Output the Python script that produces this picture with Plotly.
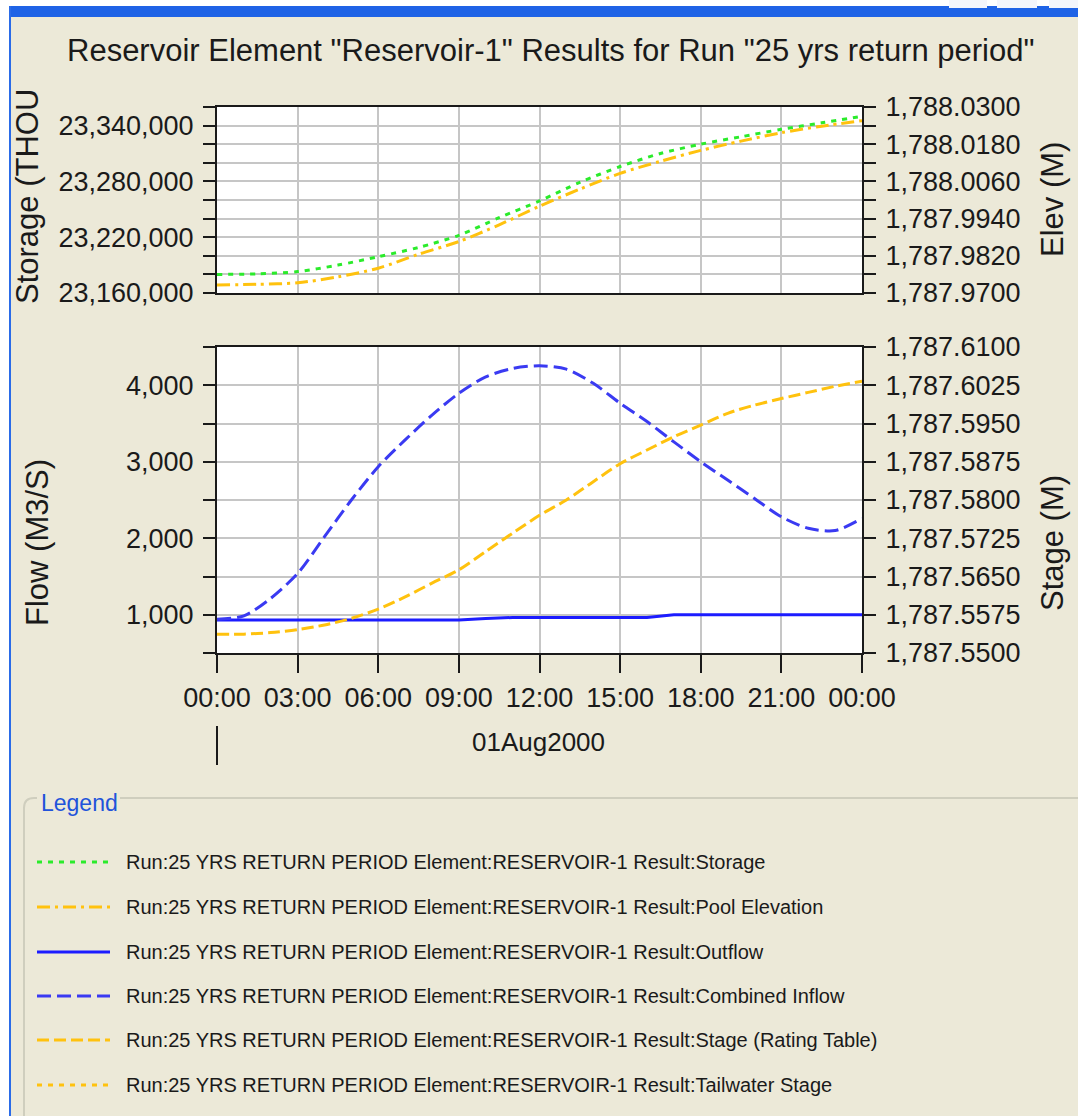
import plotly.graph_objects as go

W, H = 1078, 1116

# ---------------- data ----------------
DAY = "2000-08-01"
NEXT_DAY = "2000-08-02"

# reservoir pane (every 1.5 h)
TOP_HOURS = [0, 1.5, 3, 4.5, 6, 7.5, 9, 10.5, 12, 13.5, 15, 16.5, 18, 19.5, 21, 22.5, 24]
STORAGE = [23180000, 23180500, 23183000, 23190000, 23199000, 23209000, 23222000,
           23241000, 23259000, 23279000, 23296000, 23310000, 23320000, 23328000,
           23336000, 23343000, 23350000]
POOL_ELEV = [1787.9726, 1787.9728, 1787.9733, 1787.9752, 1787.9780, 1787.9825,
             1787.9866, 1787.9920, 1787.9980, 1788.0035, 1788.0086, 1788.0125,
             1788.0160, 1788.0190, 1788.0217, 1788.0238, 1788.0256]

# flow pane (hourly)
FLOW_HOURS = list(range(25))
OUTFLOW = [930, 930, 930, 930, 930, 930, 930, 930, 930, 930, 950, 965, 965,
           965, 965, 965, 965, 1000, 1000, 1000, 1000, 1000, 1000, 1000, 1000]
COMBINED_INFLOW = [940, 985, 1215, 1540, 2020, 2500, 2935, 3285, 3610, 3895, 4110,
                   4220, 4255, 4210, 4025, 3765, 3525, 3260, 3000, 2760, 2520,
                   2280, 2130, 2100, 2260]
STAGE_RATING = [1787.5537, 1787.5537, 1787.5540, 1787.5546, 1787.5555, 1787.5568,
                1787.5586, 1787.5610, 1787.5637, 1787.5663, 1787.5699, 1787.5735,
                1787.5770, 1787.5800, 1787.5836, 1787.5871, 1787.5898, 1787.5924,
                1787.5947, 1787.5970, 1787.5986, 1787.5999, 1787.6011, 1787.6023,
                1787.6033]

# axis ticks
TIME_TICK_HOURS = [0, 3, 6, 9, 12, 15, 18, 21, 24]
TIME_TICK_TEXT = ["00:00", "03:00", "06:00", "09:00", "12:00", "15:00", "18:00", "21:00", "00:00"]
STORAGE_TICKS = [23160000, 23180000, 23200000, 23220000, 23240000, 23260000,
                 23280000, 23300000, 23320000, 23340000, 23360000]
STORAGE_LABELED = [23160000, 23220000, 23280000, 23340000]
ELEV_TICKS = [1787.970, 1787.976, 1787.982, 1787.988, 1787.994, 1788.000,
              1788.006, 1788.012, 1788.018, 1788.024, 1788.030]
ELEV_LABELED = [1787.970, 1787.982, 1787.994, 1788.006, 1788.018, 1788.030]
FLOW_TICKS = [500, 1000, 1500, 2000, 2500, 3000, 3500, 4000, 4500]
FLOW_LABELED = [1000, 2000, 3000, 4000]
STAGE_TICKS = [1787.5500, 1787.5575, 1787.5650, 1787.5725, 1787.5800,
               1787.5875, 1787.5950, 1787.6025, 1787.6100]

PREFIX = "Run:25 YRS RETURN PERIOD Element:RESERVOIR-1 Result:"
LEGEND_RESULTS = ["Storage", "Pool Elevation", "Outflow", "Combined Inflow",
                  "Stage (Rating Table)", "Tailwater Stage"]

# ---------------- styles ----------------
FONT = "Liberation Sans, Arial, sans-serif"
BG = "#ECE9D8"
GRID = "#C6C6C6"
INK = "#1A1A1A"
GREEN = "#2BEB2B"
AMBER = "#FFC20E"
BLUE = "#1C1CFF"
BLUE_DASH = "#3A3AF2"

STYLE = {
    "Storage": dict(color=GREEN, dash="5px,6px"),
    "Pool Elevation": dict(color=AMBER, dash="13px,5px,3px,5px"),
    "Outflow": dict(color=BLUE, dash="solid"),
    "Combined Inflow": dict(color=BLUE_DASH, dash="14px,6px"),
    "Stage (Rating Table)": dict(color=AMBER, dash="12px,5px"),
    "Tailwater Stage": dict(color=AMBER, dash="5px,6px"),
}


def t(h):
    hh = int(h)
    mm = int(round((h - hh) * 60))
    if hh >= 24:
        return f"{NEXT_DAY} 00:00"
    return f"{DAY} {hh:02d}:{mm:02d}"


def px(x):
    return x / W


def py(y):
    return 1 - y / H


X_LEFT, X_RIGHT = 217, 862
TOP_T, TOP_B = 107, 293
BOT_T, BOT_B = 347, 653

fig = go.Figure()

top_x = [t(h) for h in TOP_HOURS]
flow_x = [t(h) for h in FLOW_HOURS]

fig.add_trace(go.Scatter(x=top_x, y=STORAGE, xaxis="x2", yaxis="y", mode="lines",
                         line=dict(width=3, shape="spline", smoothing=0.8, **STYLE["Storage"]),
                         name="Storage"))
fig.add_trace(go.Scatter(x=top_x, y=POOL_ELEV, xaxis="x2", yaxis="y2", mode="lines",
                         line=dict(width=3, shape="spline", smoothing=0.8, **STYLE["Pool Elevation"]),
                         name="Pool Elevation"))
fig.add_trace(go.Scatter(x=flow_x, y=OUTFLOW, xaxis="x", yaxis="y3", mode="lines",
                         line=dict(width=3, **STYLE["Outflow"]), name="Outflow"))
fig.add_trace(go.Scatter(x=flow_x, y=COMBINED_INFLOW, xaxis="x", yaxis="y3", mode="lines",
                         line=dict(width=3, shape="spline", smoothing=0.8, **STYLE["Combined Inflow"]),
                         name="Combined Inflow"))
fig.add_trace(go.Scatter(x=flow_x, y=STAGE_RATING, xaxis="x", yaxis="y4", mode="lines",
                         line=dict(width=3, shape="spline", smoothing=0.8, **STYLE["Stage (Rating Table)"]),
                         name="Stage (Rating Table)"))

tick_font = dict(family=FONT, size=27, color=INK)
x_dom = [px(X_LEFT), px(X_RIGHT)]
x_range = [t(0), t(24)]
time_ticks = [t(h) for h in TIME_TICK_HOURS]

common_y = dict(ticks="outside", ticklen=12, tickwidth=2, tickcolor=INK,
                showline=True, linewidth=2, linecolor=INK, zeroline=False,
                tickfont=tick_font, fixedrange=True, automargin=False,
                ticklabelstandoff=4)

fig.update_layout(
    width=W, height=H,
    margin=dict(l=0, r=0, t=0, b=0, autoexpand=False),
    paper_bgcolor=BG, plot_bgcolor="white",
    showlegend=False,
    xaxis=dict(domain=x_dom, anchor="y3", type="date", range=x_range,
               tickvals=time_ticks, ticktext=TIME_TICK_TEXT, tickangle=0,
               ticks="outside", ticklen=18, tickwidth=2, tickcolor=INK,
               ticklabelstandoff=2, automargin=False,
               showline=True, linewidth=2, linecolor=INK, mirror=True,
               showgrid=True, gridcolor=GRID, gridwidth=2, tickfont=tick_font),
    xaxis2=dict(domain=x_dom, anchor="y", type="date", range=x_range,
                tickvals=time_ticks, showticklabels=False, ticks="", automargin=False,
                showline=True, linewidth=2, linecolor=INK, mirror=True,
                showgrid=True, gridcolor=GRID, gridwidth=2),
    yaxis=dict(domain=[py(TOP_B), py(TOP_T)], anchor="x2", side="left",
               range=[STORAGE_TICKS[0], STORAGE_TICKS[-1]],
               tickvals=STORAGE_TICKS,
               ticktext=[f"{v:,}" if v in STORAGE_LABELED else "" for v in STORAGE_TICKS],
               showgrid=True, gridcolor=GRID, gridwidth=2, **common_y),
    yaxis2=dict(overlaying="y", anchor="x2", side="right",
                range=[ELEV_TICKS[0], ELEV_TICKS[-1]],
                tickvals=ELEV_TICKS,
                ticktext=[f"{v:,.4f}" if v in ELEV_LABELED else "" for v in ELEV_TICKS],
                showgrid=False, **common_y),
    yaxis3=dict(domain=[py(BOT_B), py(BOT_T)], anchor="x", side="left",
                range=[FLOW_TICKS[0], FLOW_TICKS[-1]],
                tickvals=FLOW_TICKS,
                ticktext=[f"{v:,}" if v in FLOW_LABELED else "" for v in FLOW_TICKS],
                showgrid=True, gridcolor=GRID, gridwidth=2, **common_y),
    yaxis4=dict(overlaying="y3", anchor="x", side="right",
                range=[STAGE_TICKS[0], STAGE_TICKS[-1]],
                tickvals=STAGE_TICKS,
                ticktext=[f"{v:,.4f}" for v in STAGE_TICKS],
                showgrid=False, **common_y),
)

shapes = []
annotations = []

# window frame
shapes.append(dict(type="rect", xref="paper", yref="paper", x0=0, x1=1, y0=py(6), y1=1,
                   fillcolor="white", line=dict(width=0), layer="below"))
shapes.append(dict(type="rect", xref="paper", yref="paper", x0=px(10), x1=1, y0=py(17), y1=py(6),
                   fillcolor="#1F63E6", line=dict(width=0), layer="below"))
for bx0, bx1 in [(949, 987), (997, 1037), (1049, 1078)]:
    shapes.append(dict(type="rect", xref="paper", yref="paper", x0=px(bx0), x1=px(bx1),
                       y0=py(8), y1=1, fillcolor="#F4F6FC", line=dict(width=0), layer="below"))
shapes.append(dict(type="rect", xref="paper", yref="paper", x0=0, x1=px(9), y0=0, y1=1,
                   fillcolor="white", line=dict(width=0), layer="below"))
shapes.append(dict(type="rect", xref="paper", yref="paper", x0=px(9), x1=px(11), y0=0, y1=py(6),
                   fillcolor="#2A6BE8", line=dict(width=0), layer="below"))

# day divider under the time axis
shapes.append(dict(type="line", xref="paper", yref="paper", x0=px(217), x1=px(217),
                   y0=py(765), y1=py(726), line=dict(color=INK, width=2)))

# title and axis titles
annotations.append(dict(text='Reservoir Element "Reservoir-1" Results for Run "25 yrs return period"',
                        x=px(550), y=py(50), xref="paper", yref="paper", showarrow=False,
                        xanchor="center", yanchor="middle",
                        font=dict(family=FONT, size=31, color=INK)))
for txt, cx, cy in [("Storage (THOU", 27, 197), ("Elev (M)", 1052, 200),
                    ("Flow (M3/S)", 37, 543), ("Stage (M)", 1052, 543)]:
    annotations.append(dict(text=txt, x=px(cx), y=py(cy), xref="paper", yref="paper",
                            showarrow=False, textangle=-90, xanchor="center", yanchor="middle",
                            font=dict(family=FONT, size=31, color=INK)))
annotations.append(dict(text="01Aug2000", x=px(538), y=py(742), xref="paper", yref="paper",
                        showarrow=False, xanchor="center", yanchor="middle",
                        font=dict(family=FONT, size=26, color=INK)))

# legend group box
box = "#CFCEBE"
shapes.append(dict(type="path", xref="paper", yref="paper",
                   path=(f"M {px(24)},{py(1130)} L {px(24)},{py(808)} "
                         f"Q {px(24)},{py(798)} {px(34)},{py(798)} L {px(37)},{py(798)}"),
                   line=dict(color=box, width=2)))
shapes.append(dict(type="line", xref="paper", yref="paper", x0=px(120), x1=px(1090),
                   y0=py(798), y1=py(798), line=dict(color=box, width=2)))
annotations.append(dict(text="Legend", x=px(39), y=py(803), xref="paper", yref="paper",
                        showarrow=False, xanchor="left", yanchor="middle",
                        font=dict(family=FONT, size=23, color="#2153DB")))

ROW_Y = [862, 907, 952, 996, 1040, 1085]
for name, ry in zip(LEGEND_RESULTS, ROW_Y):
    st = STYLE[name]
    shapes.append(dict(type="line", xref="paper", yref="paper", x0=px(37), x1=px(110),
                       y0=py(ry), y1=py(ry),
                       line=dict(color=st["color"], width=3, dash=st["dash"])))
    annotations.append(dict(text=PREFIX + name, x=px(124), y=py(ry), xref="paper", yref="paper",
                            showarrow=False, xanchor="left", yanchor="middle",
                            font=dict(family=FONT, size=20, color=INK)))

fig.update_layout(shapes=shapes, annotations=annotations)

fig.write_html("out.html")
